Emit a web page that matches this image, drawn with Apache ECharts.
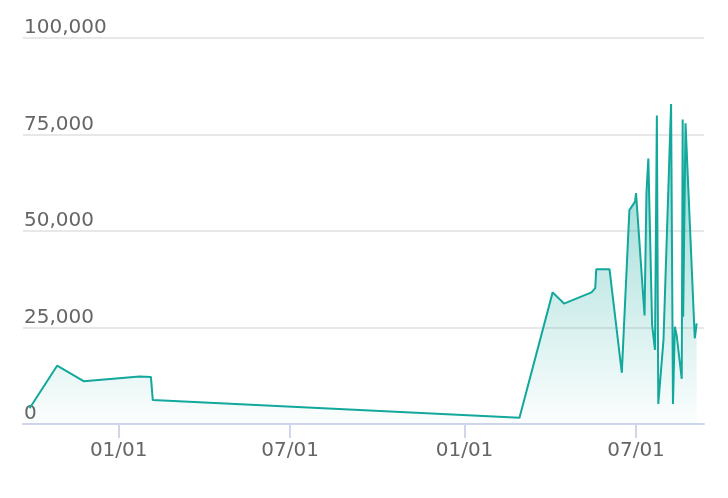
<!DOCTYPE html>
<html>
<head>
<meta charset="utf-8">
<script src="https://cdn.jsdelivr.net/npm/echarts@6/dist/echarts.min.js"></script>
<style>html,body{margin:0;padding:0;background:#fff}#c{width:728px;height:498px}</style>
</head>
<body>
<div id="c"></div>
<script>
var dates = [
  '2020-09-29','2020-10-28','2020-11-25','2021-01-23','2021-02-04','2021-02-06',
  '2022-02-28','2022-04-04','2022-04-16','2022-05-15','2022-05-19','2022-05-20',
  '2022-06-03','2022-06-16','2022-06-24','2022-06-30','2022-07-01','2022-07-10',
  '2022-07-12','2022-07-14','2022-07-18','2022-07-21','2022-07-23','2022-07-24 12:00',
  '2022-07-30','2022-08-07','2022-08-09','2022-08-11','2022-08-13','2022-08-18 06:00',
  '2022-08-19 06:00','2022-08-19 18:00','2022-08-22 06:00','2022-09-01','2022-09-03'
];
var values = [
  4100,15100,11100,12300,12200,6200,
  1600,34100,31200,34100,35200,40100,
  40100,13300,55400,57600,59800,28100,
  59800,68800,25600,19200,79900,5200,
  21800,82900,5200,25200,22800,11700,
  78900,27800,77900,22200,26100
];
var xTickDates = ['2021-01-01','2021-07-01','2022-01-01','2022-07-01'];
var yTicks = [0,25000,50000,75000,100000];

function toTs(s){
  var p = s.split(' ');
  var d = p[0].split('-');
  var h = p[1] ? +p[1].split(':')[0] : 0;
  return new Date(+d[0], +d[1]-1, +d[2], h).getTime();
}
var seriesData = dates.map(function(d,i){ return [toTs(d), values[i]]; });
var xTicks = xTickDates.map(toTs);
function pad(n){ return (n<10?'0':'')+n; }

var chart = echarts.init(document.getElementById('c'), null, {renderer:'canvas'});
chart.setOption({
  animation: false,
  grid: {left: 23, right: 24, top: 38, bottom: 74, containLabel: false},
  xAxis: {
    type: 'value',
    min: toTs('2020-09-22'),
    max: toTs('2022-09-10 18:00'),
    axisLine: {show: true, onZero: false, lineStyle: {color: '#cfd5ea', width: 2}},
    axisTick: {show: true, length: 14, customValues: xTicks, lineStyle: {color: '#cfd5ea', width: 2}},
    splitLine: {show: false},
    axisLabel: {
      customValues: xTicks,
      margin: 17,
      color: '#666',
      fontFamily: 'DejaVu Sans',
      fontSize: 20,
      formatter: function(v){ var d = new Date(v); return pad(d.getMonth()+1) + '/' + pad(d.getDate()); }
    }
  },
  yAxis: {
    type: 'value',
    min: yTicks[0],
    max: yTicks[yTicks.length-1],
    interval: yTicks[1]-yTicks[0],
    axisLine: {show: false},
    axisTick: {show: false},
    splitLine: {show: true, lineStyle: {color: '#e8e8e8', width: 2}},
    axisLabel: {
      inside: true,
      margin: 1,
      verticalAlign: 'bottom',
      color: '#666',
      fontFamily: 'DejaVu Sans',
      fontSize: 20,
      formatter: function(v){ return v.toLocaleString('en-US'); }
    }
  },
  series: [{
    type: 'line',
    data: seriesData,
    showSymbol: false,
    symbol: 'none',
    lineStyle: {color: '#12a89c', width: 2},
    itemStyle: {color: '#12a89c'},
    areaStyle: {
      color: new echarts.graphic.LinearGradient(0,0,0,1,[
        {offset: 0, color: 'rgba(18,168,156,0.72)'},
        {offset: 1, color: 'rgba(18,168,156,0.02)'}
      ])
    }
  }]
});
</script>
</body>
</html>
